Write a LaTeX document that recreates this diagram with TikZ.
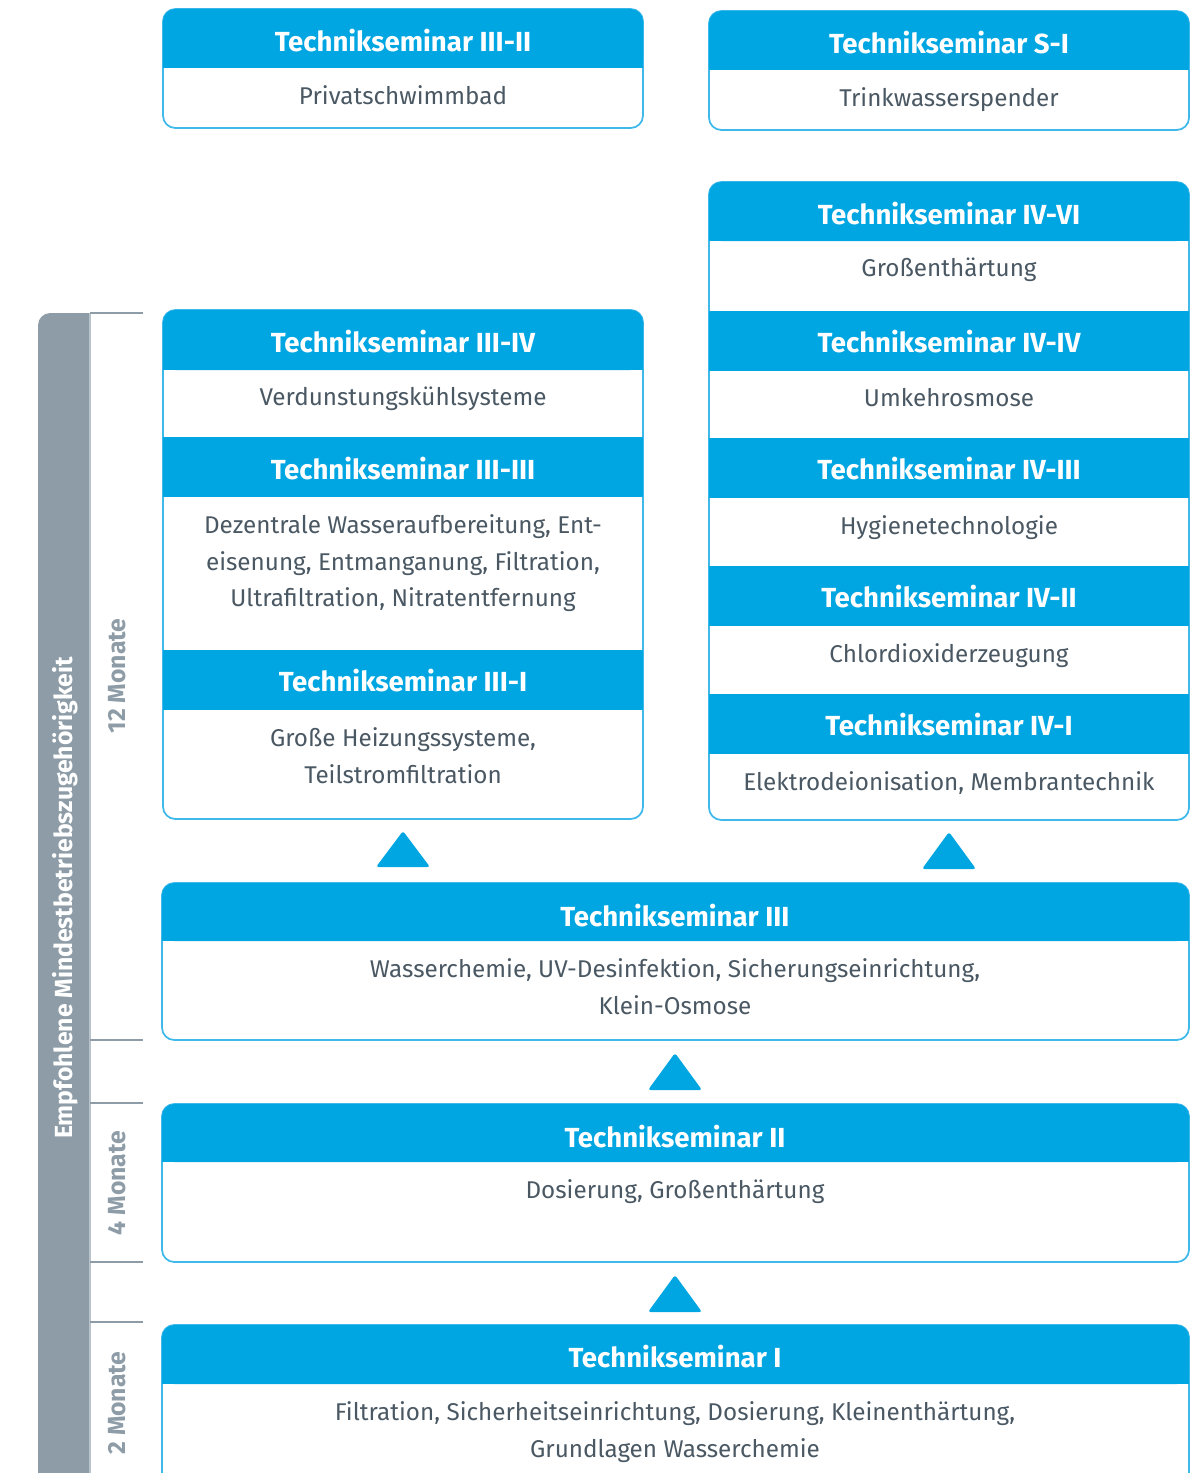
\documentclass[tikz,border=0pt]{standalone}
\usepackage{fontspec}
\setmainfont{Fira Sans}
\usetikzlibrary{positioning}

\definecolor{seminarblue}{HTML}{00A6E2}
\definecolor{lineblue}{HTML}{3FB9EA}
\definecolor{bodygrey}{HTML}{4A5863}
\definecolor{bargrey}{HTML}{8D9CA6}
\definecolor{ticklight}{HTML}{B9C4CA}

%% columns (in pixels of the 1195 x 1473 page)
\newcommand{\leftcolx}{163}
\newcommand{\leftcolxx}{643}
\newcommand{\leftmid}{403}
\newcommand{\rightcolx}{709}
\newcommand{\rightcolxx}{1189}
\newcommand{\rightmid}{949}
\newcommand{\widex}{162}
\newcommand{\widemid}{675}
\newcommand{\boxradius}{7pt}
\newcommand{\bodygap}{11}
\newcommand{\barleft}{38}
\newcommand{\barright}{90}
\newcommand{\tickright}{143}
\newcommand{\monthx}{117}

\begin{document}
\begin{tikzpicture}[x=0.02cm,y=-0.02cm]

\tikzstyle{outline}=[draw=lineblue, line width=1pt, rounded corners=\boxradius]
\tikzstyle{headfill}=[fill=seminarblue]
\tikzstyle{title}=[text=white, font=\bfseries\fontsize{15.7}{18}\selectfont]
\tikzstyle{body}=[text=bodygrey, font=\fontsize{13.8}{21}\selectfont, align=center, anchor=north]
\tikzstyle{tri}=[fill=seminarblue, rounded corners=1.5pt]
\tikzstyle{tick}=[draw=bargrey, line width=0.8pt]
\tikzstyle{month}=[text=bargrey, font=\bfseries\fontsize{14.1}{18}\selectfont, rotate=90]

\useasboundingbox (0,0) rectangle (1195,1473);
\clip (0,0) rectangle (1195,1473);

%% grey bar on the left with month ticks
\fill[bargrey, rounded corners=\boxradius] (\barleft,313) rectangle (\barright,1520);
\fill[bargrey] (64,313) rectangle (\barright,1520);
\draw[ticklight, line width=0.6pt] (\barright,313) -- (\barright,1473);
\draw[tick] (\barright,313) -- (\tickright,313);
\draw[tick] (\barright,1040) -- (\tickright,1040);
\draw[tick] (\barright,1103) -- (\tickright,1103);
\draw[tick] (\barright,1262) -- (\tickright,1262);
\draw[tick] (\barright,1322) -- (\tickright,1322);
\node (barlabel) [text=white, font=\bfseries\fontsize{14.1}{18}\selectfont, rotate=90] at (65,898) {Empfohlene Mindestbetriebszugehörigkeit};
\node (twelve) [month] at (\monthx,676) {12 Monate};
\node (four) [month] at (\monthx,1183) {4 Monate};
\node (two) [month] at (\monthx,1403) {2 Monate};

%% top row: III-II and S-I
\draw[outline] (\leftcolx,9) rectangle (\leftcolxx,128);
\fill[headfill, rounded corners=\boxradius] (\leftcolx,9) rectangle (\leftcolxx,68);
\fill[headfill] (\leftcolx,55) rectangle (\leftcolxx,68);
\node (t3II) [title] at (\leftmid,41) {Technikseminar III-II};
\node (b3II) [body] at (\leftmid,68+\bodygap) {Privatschwimmbad};

\draw[outline] (\rightcolx,11) rectangle (\rightcolxx,130);
\fill[headfill, rounded corners=\boxradius] (\rightcolx,11) rectangle (\rightcolxx,70);
\fill[headfill] (\rightcolx,57) rectangle (\rightcolxx,70);
\node (tSI) [title] at (\rightmid,43) {Technikseminar S-I};
\node (bSI) [body] at (\rightmid,70+\bodygap) {Trinkwasserspender};

%% right stack IV-VI ... IV-I
\draw[outline] (\rightcolx,182) rectangle (\rightcolxx,820);
\fill[headfill, rounded corners=\boxradius] (\rightcolx,182) rectangle (\rightcolxx,241);
\fill[headfill] (\rightcolx,228) rectangle (\rightcolxx,241);
\fill[headfill] (\rightcolx,311) rectangle (\rightcolxx,371);
\fill[headfill] (\rightcolx,438) rectangle (\rightcolxx,498);
\fill[headfill] (\rightcolx,566) rectangle (\rightcolxx,626);
\fill[headfill] (\rightcolx,694) rectangle (\rightcolxx,754);
\node (t4VI) [title] at (\rightmid,214) {Technikseminar IV-VI};
\node (b4VI) [body] at (\rightmid,241+\bodygap) {Großenthärtung};
\node (t4IV) [title] at (\rightmid,342) {Technikseminar IV-IV};
\node (b4IV) [body] at (\rightmid,371+\bodygap) {Umkehrosmose};
\node (t4III) [title] at (\rightmid,469) {Technikseminar IV-III};
\node (b4III) [body] at (\rightmid,498+\bodygap) {Hygienetechnologie};
\node (t4II) [title] at (\rightmid,597) {Technikseminar IV-II};
\node (b4II) [body] at (\rightmid,626+\bodygap) {Chlordioxiderzeugung};
\node (t4I) [title] at (\rightmid,725) {Technikseminar IV-I};
\node (b4I) [body] at (\rightmid,754+\bodygap) {Elektrodeionisation, Membrantechnik};

%% left stack III-IV ... III-I
\draw[outline] (\leftcolx,310) rectangle (\leftcolxx,819);
\fill[headfill, rounded corners=\boxradius] (\leftcolx,310) rectangle (\leftcolxx,370);
\fill[headfill] (\leftcolx,357) rectangle (\leftcolxx,370);
\fill[headfill] (\leftcolx,437) rectangle (\leftcolxx,497);
\fill[headfill] (\leftcolx,650) rectangle (\leftcolxx,710);
\node (t3IV) [title] at (\leftmid,342) {Technikseminar III-IV};
\node (b3IV) [body] at (\leftmid,370+\bodygap) {Verdunstungskühlsysteme};
\node (t3III) [title] at (\leftmid,469) {Technikseminar III-III};
\node (b3III) [body] at (\leftmid,497+\bodygap) {Dezentrale Wasseraufbereitung, Ent-\\eisenung, Entmanganung, Filtration,\\Ultrafiltration, Nitratentfernung};
\node (t3I) [title] at (\leftmid,681) {Technikseminar III-I};
\node (b3I) [body] at (\leftmid,710+\bodygap) {Große Heizungssysteme,\\Teilstromfiltration};

%% triangles between the levels
\fill[tri] (376,867) -- (\leftmid,831) -- (430,867) -- cycle;
\fill[tri] (922,869) -- (\rightmid,832) -- (976,869) -- cycle;
\fill[tri] (648,1090) -- (\widemid,1053) -- (702,1090) -- cycle;
\fill[tri] (648,1312) -- (\widemid,1275) -- (702,1312) -- cycle;

%% wide boxes III, II, I
\draw[outline] (\widex,883) rectangle (\rightcolxx,1040);
\fill[headfill, rounded corners=\boxradius] (\widex,883) rectangle (\rightcolxx,941);
\fill[headfill] (\widex,928) rectangle (\rightcolxx,941);
\node (t3) [title] at (\widemid,916) {Technikseminar III};
\node (b3) [body] at (\widemid,941+\bodygap) {Wasserchemie, UV-Desinfektion, Sicherungseinrichtung,\\Klein-Osmose};

\draw[outline] (\widex,1104) rectangle (\rightcolxx,1262);
\fill[headfill, rounded corners=\boxradius] (\widex,1104) rectangle (\rightcolxx,1162);
\fill[headfill] (\widex,1149) rectangle (\rightcolxx,1162);
\node (t2) [title] at (\widemid,1137) {Technikseminar II};
\node (b2) [body] at (\widemid,1162+\bodygap) {Dosierung, Großenthärtung};

\draw[outline] (\widex,1325) rectangle (\rightcolxx,1520);
\fill[headfill, rounded corners=\boxradius] (\widex,1325) rectangle (\rightcolxx,1384);
\fill[headfill] (\widex,1371) rectangle (\rightcolxx,1384);
\node (t1) [title] at (\widemid,1357) {Technikseminar I};
\node (b1) [body] at (\widemid,1384+\bodygap) {Filtration, Sicherheitseinrichtung, Dosierung, Kleinenthärtung,\\Grundlagen Wasserchemie};

\end{tikzpicture}
\end{document}
